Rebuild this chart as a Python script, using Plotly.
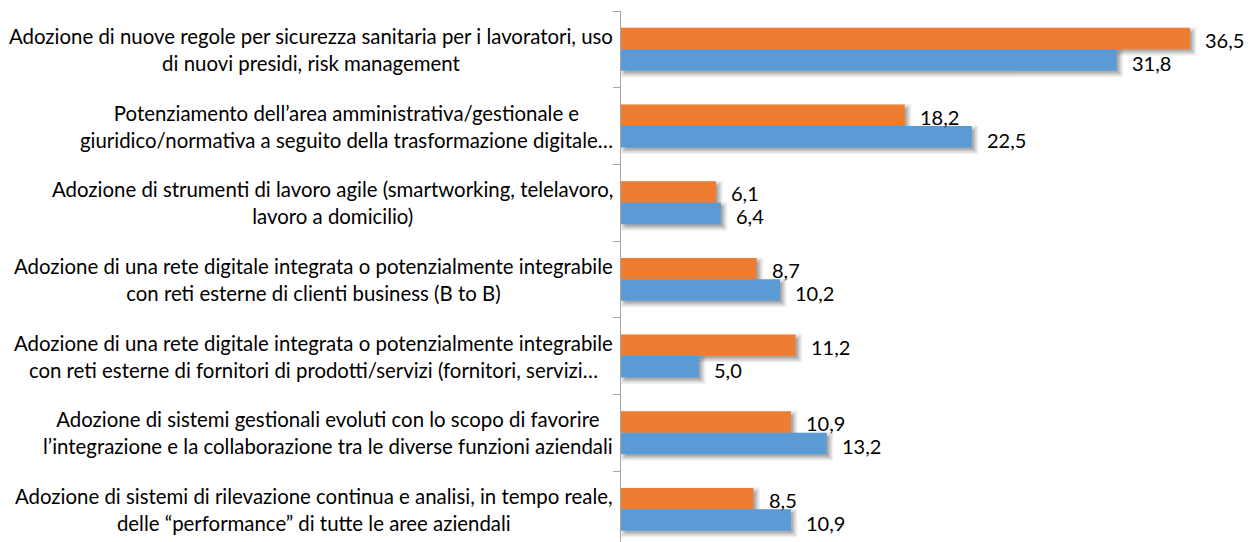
import plotly.graph_objects as go

categories = [
    "Adozione di nuove regole per sicurezza sanitaria per i lavoratori, uso<br>di nuovi presidi, risk management",
    "Potenziamento dell’area amministrativa/gestionale e<br>giuridico/normativa a seguito della trasformazione digitale…",
    "Adozione di strumenti di lavoro agile (smartworking, telelavoro,<br>lavoro a domicilio)",
    "Adozione di una rete digitale integrata o potenzialmente integrabile<br>con reti esterne di clienti business (B to B)",
    "Adozione di una rete digitale integrata o potenzialmente integrabile<br>con reti esterne di fornitori di prodotti/servizi (fornitori, servizi…",
    "Adozione di sistemi gestionali evoluti con lo scopo di favorire<br>l’integrazione e la collaborazione tra le diverse funzioni aziendali",
    "Adozione di sistemi di rilevazione continua e analisi, in tempo reale,<br>delle “performance” di tutte le aree aziendali",
]
orange_values = [36.5, 18.2, 6.1, 8.7, 11.2, 10.9, 8.5]
blue_values = [31.8, 22.5, 6.4, 10.2, 5.0, 13.2, 10.9]

ORANGE = "#ED7D31"
BLUE = "#5B9BD5"
FONT = "Lato, 'Open Sans', sans-serif"

W, H = 1250, 542
ML, MT = 621, 11
PX_X = 15.59           # pixels per x unit
PX_Y = 76.67           # pixels per category
XMAX = (W - ML) / PX_X
YBOT = -0.5 + (H - MT) / PX_Y
BAR_W = 0.28

n = len(categories)
ys = list(range(n))

fig = go.Figure()

# soft shadows
series = [(orange_values, -BAR_W, -1.5), (blue_values, 0.0, -3)]
dx_px, dy_px = 3.0, 3.0
for e_px, op in [(3.5, 0.06), (2.0, 0.08), (0.5, 0.10), (-1.0, 0.12)]:
    for vals, off, _ in series:
        ex = e_px / PX_X
        ey = e_px / PX_Y
        fig.add_trace(go.Bar(
            y=ys, x=[v + 2 * ex for v in vals], base=dx_px / PX_X - ex,
            orientation="h", width=BAR_W + 2 * ey, offset=off + dy_px / PX_Y - ey,
            marker=dict(color="black", line=dict(width=0)), opacity=op,
            hoverinfo="skip", showlegend=False,
        ))

for vals, off, col in [(orange_values, -BAR_W, ORANGE), (blue_values, 0.0, BLUE)]:
    fig.add_trace(go.Bar(
        y=ys, x=vals, orientation="h", width=BAR_W, offset=off,
        marker=dict(color=col, line=dict(width=0)), showlegend=False,
    ))

annotations = []
for i, lab in enumerate(categories):
    annotations.append(dict(
        x=0, xref="paper", y=i, yref="y", text=lab, showarrow=False,
        xanchor="right", yanchor="middle", align="center", xshift=-6,
        font=dict(family=FONT, size=20.4, color="#000000"),
    ))
for vals, off, ysh in series:
    for i, v in enumerate(vals):
        annotations.append(dict(
            x=v, xref="x", y=i + off + BAR_W / 2, yref="y",
            text=f"{v:.1f}".replace(".", ","), showarrow=False,
            xanchor="left", yanchor="middle", xshift=13, yshift=ysh,
            font=dict(family=FONT, size=20, color="#000000"),
        ))

fig.update_layout(
    width=W, height=H, barmode="overlay",
    margin=dict(l=ML, r=0, t=MT, b=0, pad=0),
    paper_bgcolor="white", plot_bgcolor="white",
    xaxis=dict(range=[0, XMAX], visible=False, fixedrange=True),
    yaxis=dict(
        range=[YBOT, -0.5], showgrid=False, zeroline=False,
        showline=True, linecolor="#A6A6A6", linewidth=1,
        ticks="outside", ticklen=7, tickcolor="#A6A6A6", tickwidth=1,
        tickvals=[k - 0.5 for k in range(n + 1)], showticklabels=False,
        fixedrange=True,
    ),
    annotations=annotations,
    showlegend=False,
)

fig.write_html(
    "out.html",
    config={"displayModeBar": False},
    post_script="document.body.style.margin='0';document.body.style.overflow='hidden';",
)
